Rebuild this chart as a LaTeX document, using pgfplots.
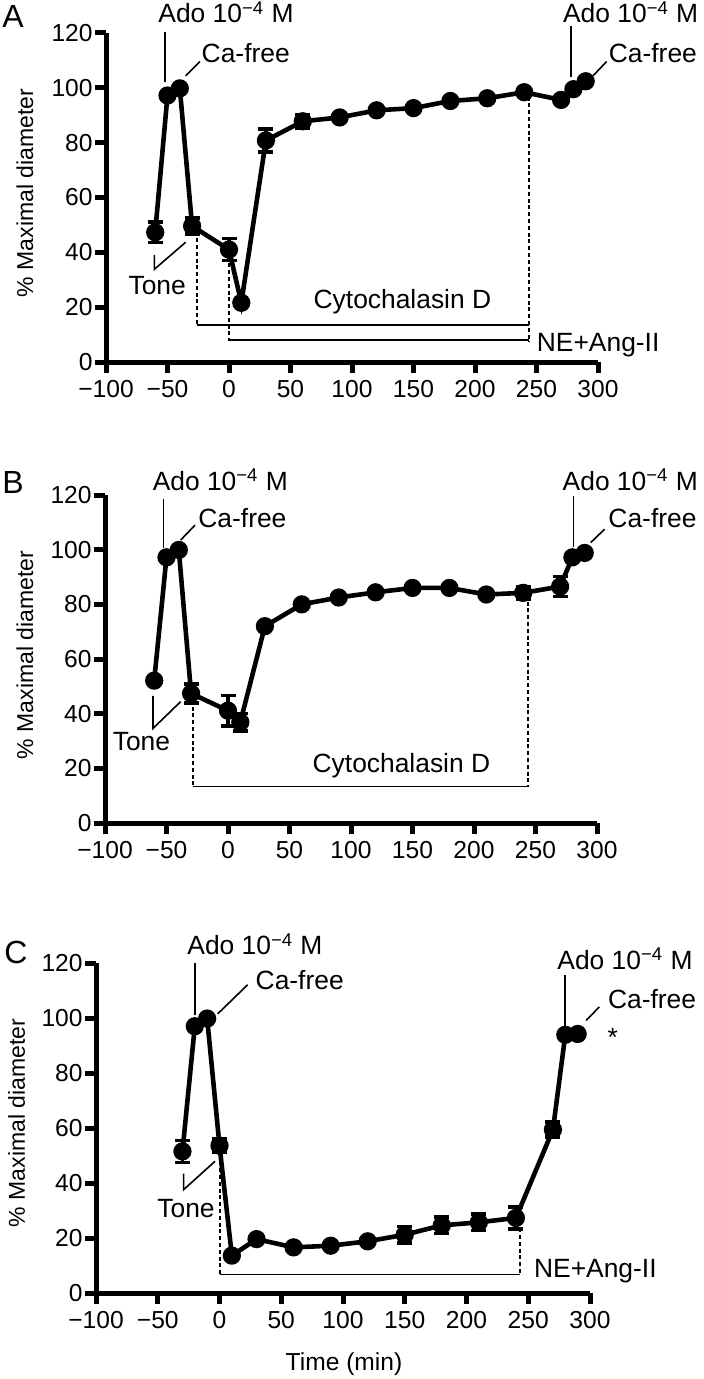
\documentclass[border=0pt]{standalone}
\usepackage{fontspec}
\setmainfont{Liberation Sans}
\usepackage{pgfplots}
\pgfplotsset{compat=1.18}
\pgfplotsset{
 panel/.style={
  scale only axis, width=246pt, height=164.5pt,
  axis lines=left, axis line style={line width=2.5pt, -},
  xmin=-100,xmax=300,ymin=0,ymax=120,
  xtick={-100,-50,...,300}, xticklabels={−100,−50,0,50,100,150,200,250,300},
  ytick={0,20,...,120},
  tick align=outside, major tick length=5.5pt,
  every tick/.style={line width=2.5pt, black},
  tick label style={font=\fontsize{12.3}{14}\selectfont},
  yticklabel style={inner xsep=1pt},
  /pgf/number format/assume math mode=true,
  clip=false, anchor=south west,
 },
 data/.style={black, line width=2.3pt, mark=*, mark size=3.4pt, mark options={solid}},
 errs/.style={draw=none, mark=none, forget plot, error bars/.cd, y dir=both, y explicit,
   error mark=|,
   error bar style={line width=1.8pt, draw=black},
   error mark options={mark size=3.75pt, line width=1.8pt, draw=black}},
}
\tikzset{ann/.style={line width=0.8pt},
 dsh/.style={line width=1pt, dash pattern=on 2pt off 1.4pt},
 lab/.style={font=\fontsize{13.2}{15}\selectfont, inner sep=0pt}}
\begin{document}
\begin{tikzpicture}
\path[use as bounding box] (0,0) rectangle (352pt,-689.5pt);
% ---------- Panel A
\begin{axis}[panel, at={(53pt,-181pt)}]
\addplot[errs] coordinates {(-60,47.3) +- (0,3.7) (-30,49.6) +- (0,3) (0,41) +- (0,4) (30,80.8) +- (0,4.2) (60,87.8) +- (0,2.5)};
\addplot[data] coordinates {(-60,47.3) (-50,97.2) (-40,99.8) (-30,49.6) (0,41) (10,21.6) (30,80.8) (60,87.8) (90,89.2) (120,91.8) (150,92.6) (180,95.2) (210,96.2) (240,98.4) (270,95.6) (280,99.5) (290,102.4)};
\draw[ann] (axis cs:-52,120.5) -- (axis cs:-52,102);
\node[lab,anchor=base west] at (axis cs:-57.7,123.7) {Ado 10\textsuperscript{−4} M};
\draw[ann] (axis cs:-35.2,104.4) -- (axis cs:-23.6,109.6);
\node[lab,anchor=base west] at (axis cs:-22.5,109.4) {Ca-free};
\draw[ann] (axis cs:-60.7,39.1) -- (axis cs:-60.7,33.8) -- (axis cs:-35.2,43.7);
\node[lab,anchor=base west] at (axis cs:-82,24.5) {Tone};
\draw[dsh] (axis cs:-26,47.6) -- (axis cs:-26,13.5);
\draw[ann] (axis cs:-26,13.5) -- (axis cs:244,13.5);
\draw[dsh] (axis cs:0,36) -- (axis cs:0,7.5);
\draw[ann] (axis cs:0,8) -- (axis cs:244,8);
\draw[dsh] (axis cs:244,96.8) -- (axis cs:244,7.5);
\node[lab,anchor=base east] at (axis cs:213.5,19.6) {Cytochalasin D};
\node[lab,anchor=base west] at (axis cs:250,3.8) {NE+Ang-II};
\draw[ann] (axis cs:278,122.4) -- (axis cs:278,103.9);
\node[lab,anchor=base west] at (axis cs:271.3,123.7) {Ado 10\textsuperscript{−4} M};
\draw[ann] (axis cs:296,104.4) -- (axis cs:307,109.6);
\node[lab,anchor=base west] at (axis cs:308.5,109.4) {Ca-free};
\end{axis}
% ---------- Panel B
\begin{axis}[panel, at={(52.5pt,-411.5pt)}, height=164pt]
\addplot[errs] coordinates {(-30,47.4) +- (0,3.4) (0,41.1) +- (0,5.5) (10,36.9) +- (0,3.2) (240,84.2) +- (0,2.3) (270,86.5) +- (0,3.7)};
\addplot[data] coordinates {(-60,52.1) (-50,97.2) (-40,99.9) (-30,47.4) (0,41.1) (10,36.9) (30,72) (60,80) (90,82.5) (120,84.4) (150,86) (180,86) (210,83.6) (240,84.2) (270,86.5) (280,97.2) (290,98.8)};
\draw[ann] (axis cs:-52.6,118.7) -- (axis cs:-52.6,100.5);
\node[lab,anchor=base west] at (axis cs:-61.5,121.8) {Ado 10\textsuperscript{−4} M};
\draw[ann] (axis cs:-38.5,103.5) -- (axis cs:-26.8,109);
\node[lab,anchor=base west] at (axis cs:-24.4,108.2) {Ca-free};
\draw[ann] (axis cs:-61,46.5) -- (axis cs:-61,34.6) -- (axis cs:-38.5,44.4);
\node[lab,anchor=base west] at (axis cs:-94,26.5) {Tone};
\draw[dsh] (axis cs:-28.5,42.6) -- (axis cs:-28.5,13.3);
\draw[ann] (axis cs:-28.5,13.3) -- (axis cs:244,13.3);
\draw[dsh] (axis cs:244,81) -- (axis cs:244,13.3);
\node[lab,anchor=base east] at (axis cs:213.5,18.4) {Cytochalasin D};
\draw[ann] (axis cs:280.8,119.6) -- (axis cs:280.8,101.1);
\node[lab,anchor=base west] at (axis cs:271.8,121.8) {Ado 10\textsuperscript{−4} M};
\draw[ann] (axis cs:294.9,102.6) -- (axis cs:306.2,107.5);
\node[lab,anchor=base west] at (axis cs:309,108.2) {Ca-free};
\end{axis}
% ---------- Panel C
\begin{axis}[panel, at={(48pt,-646.5pt)}, width=247pt, height=165pt]
\addplot[errs] coordinates {(-30,51.5) +- (0,4) (0,53.6) +- (0,2.5) (150,21.2) +- (0,3) (180,24.6) +- (0,3) (210,25.7) +- (0,3) (240,27.3) +- (0,4) (270,59.4) +- (0,2.7)};
\addplot[data] coordinates {(-30,51.5) (-20,97) (-10,99.8) (0,53.6) (10,13.6) (30,19.6) (60,16.6) (90,17.2) (120,18.8) (150,21.2) (180,24.6) (210,25.7) (240,27.3) (270,59.4) (280,93.9) (290,94.2)};
\draw[ann] (axis cs:-19.6,120) -- (axis cs:-19.6,101.2);
\node[lab,anchor=base west] at (axis cs:-26.3,123) {Ado 10\textsuperscript{−4} M};
\draw[ann] (axis cs:-1.5,101.5) -- (axis cs:22.8,112.1);
\node[lab,anchor=base west] at (axis cs:29,110.3) {Ca-free};
\draw[ann] (axis cs:-29,43.4) -- (axis cs:-29,37.6) -- (axis cs:-3.6,47.9);
\node[lab,anchor=base west] at (axis cs:-50.6,27.3) {Tone};
\draw[dsh] (axis cs:0,50.3) -- (axis cs:0,6.7);
\draw[ann] (axis cs:0,6.7) -- (axis cs:243.3,6.7);
\draw[dsh] (axis cs:243.3,23.6) -- (axis cs:243.3,6.7);
\node[lab,anchor=base west] at (axis cs:254.4,5.5) {NE+Ang-II};
\draw[ann] (axis cs:279.8,115.7) -- (axis cs:279.8,94.5);
\node[lab,anchor=base west] at (axis cs:273.3,117.6) {Ado 10\textsuperscript{−4} M};
\draw[ann] (axis cs:296.8,99.1) -- (axis cs:307.5,104);
\node[lab,anchor=base west] at (axis cs:314.3,103.6) {Ca-free};
\node[lab,anchor=base] at (axis cs:318.4,89.5) {*};
\end{axis}
% ---------- labels
\node[font=\fontsize{11.5}{13}\selectfont, rotate=90, anchor=base, inner sep=0pt] at (16.5pt,-96.5pt) {\% Maximal diameter};
\node[font=\fontsize{11.5}{13}\selectfont, rotate=90, anchor=base, inner sep=0pt] at (16.5pt,-327.5pt) {\% Maximal diameter};
\node[font=\fontsize{11.5}{13}\selectfont, rotate=90, anchor=base, inner sep=0pt] at (12.5pt,-561.5pt) {\% Maximal diameter};
\node[font=\fontsize{16}{18}\selectfont, anchor=base west, inner sep=0pt] at (1pt,-13.8pt) {A};
\node[font=\fontsize{16}{18}\selectfont, anchor=base west, inner sep=0pt] at (1pt,-246.5pt) {B};
\node[font=\fontsize{16}{18}\selectfont, anchor=base west, inner sep=0pt] at (2pt,-481.5pt) {C};
\node[font=\fontsize{12.3}{14}\selectfont, anchor=base, inner sep=0pt] at (172pt,-685pt) {Time (min)};
\end{tikzpicture}
\end{document}
